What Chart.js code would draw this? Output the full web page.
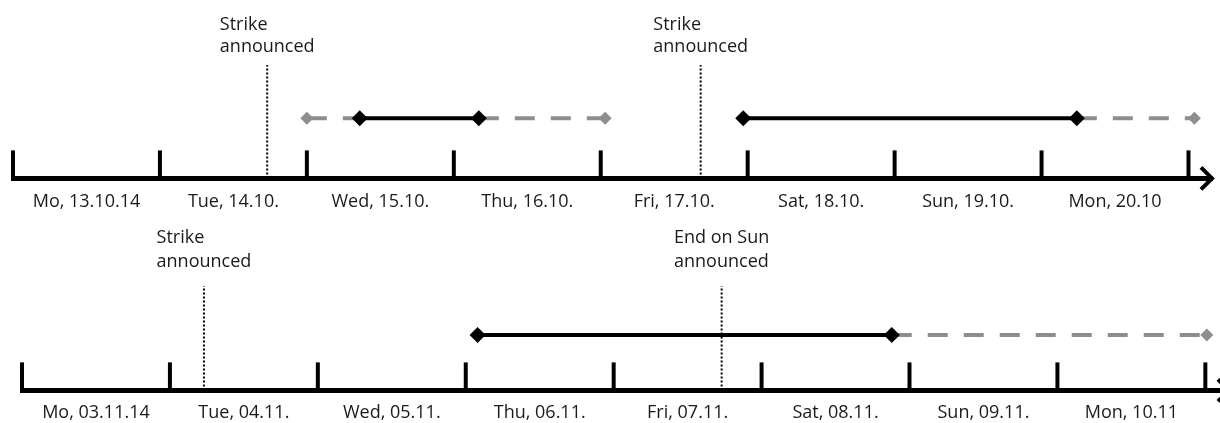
<!DOCTYPE html>
<html>
<head>
<meta charset="utf-8">
<script src="https://cdn.jsdelivr.net/npm/chart.js@4.4.1/dist/chart.umd.min.js"></script>
<style>
  html, body { margin: 0; padding: 0; background: #fff; overflow: hidden; }
  .row { position: relative; }
  #row1 { width: 1220px; height: 211px; }
  #row2 { width: 1240px; height: 212px; }
</style>
</head>
<body>
<div class="row" id="row1"><canvas id="chartOct"></canvas></div>
<div class="row" id="row2"><canvas id="chartNov"></canvas></div>
<script>
// x = days counted from Monday 00:00 of each week
const daysOct = ['Mo, 13.10.14', 'Tue, 14.10.', 'Wed, 15.10.', 'Thu, 16.10.', 'Fri, 17.10.', 'Sat, 18.10.', 'Sun, 19.10.', 'Mon, 20.10'];
const strikeOct = [[2.36, 3.17], [4.97, 7.24]];
const possibleOct = [[2.0, 2.36], [3.17, 4.03], [7.24, 8.04]];
const announceOct = [1.73, 4.68];
const announceTextOct = [['Strike', 'announced'], ['Strike', 'announced']];

const daysNov = ['Mo, 03.11.14', 'Tue, 04.11.', 'Wed, 05.11.', 'Thu, 06.11.', 'Fri, 07.11.', 'Sat, 08.11.', 'Sun, 09.11.', 'Mon, 10.11'];
const strikeNov = [[3.08, 5.88]];
const possibleNov = [[5.88, 8.01]];
const announceNov = [1.23, 4.73];
const announceTextNov = [['Strike', 'announced'], ['End on Sun', 'announced']];

const FONT = "'Open Sans', sans-serif";
const GRAY = '#8e8e8e';

Chart.defaults.font.family = FONT;
Chart.defaults.font.size = 18;
Chart.defaults.color = '#1a1a1a';

// segments -> points, null breaks the line
function segPoints(segs, y) {
  const pts = [];
  segs.forEach((s, i) => {
    if (i > 0) pts.push({ x: null, y: null });
    pts.push({ x: s[0], y: y }, { x: s[1], y: y });
  });
  return pts;
}

function vertPoints(xs) {
  const pts = [];
  xs.forEach((x, i) => {
    if (i > 0) pts.push({ x: null, y: null });
    pts.push({ x: x, y: 0 }, { x: x, y: 1 });
  });
  return pts;
}

function makeTimeline(id, days, strike, possible, announce, texts, opt) {
  const level = opt.level;

  const timeline = {
    id: 'timeline',
    afterDraw(chart) {
      const ctx = chart.ctx;
      const xs = chart.scales.x;
      const axisY = xs.top;
      ctx.save();
      ctx.strokeStyle = '#000';
      ctx.lineWidth = 4;
      // day ticks pointing up
      xs.ticks.forEach(t => {
        const px = xs.getPixelForValue(t.value);
        ctx.beginPath();
        ctx.moveTo(px, axisY);
        ctx.lineTo(px, axisY - 28);
        ctx.stroke();
      });
      // arrow head
      const tip = xs.right;
      ctx.lineJoin = 'miter';
      ctx.beginPath();
      ctx.moveTo(tip - 11, axisY - 11);
      ctx.lineTo(tip, axisY);
      ctx.lineTo(tip - 11, axisY + 11);
      ctx.stroke();
      // annotation texts
      ctx.font = '18px ' + FONT;
      ctx.fillStyle = '#1a1a1a';
      ctx.textBaseline = 'middle';
      ctx.textAlign = 'left';
      const y0 = chart.scales.y.getPixelForValue(1);
      announce.forEach((x, i) => {
        const lines = texts[i];
        const w = Math.max(...lines.map(l => ctx.measureText(l).width));
        const px = xs.getPixelForValue(x) - w / 2;
        lines.forEach((l, j) => {
          ctx.fillText(l, px, y0 - opt.gap - (lines.length - 1 - j) * opt.lineH);
        });
      });
      ctx.restore();
    }
  };

  return new Chart(document.getElementById(id), {
    type: 'scatter',
    data: {
      datasets: [
        {
          label: 'Strike',
          data: segPoints(strike, level),
          showLine: true,
          borderColor: '#000',
          backgroundColor: '#000',
          borderWidth: 4,
          pointStyle: 'rectRot',
          pointRadius: 8,
          pointBorderWidth: 0,
          clip: false
        },
        {
          label: 'Possible',
          data: segPoints(possible, level),
          showLine: true,
          borderColor: GRAY,
          backgroundColor: GRAY,
          borderWidth: 4,
          borderDash: [20, 16],
          pointStyle: 'rectRot',
          pointRadius: 6.5,
          pointBorderWidth: 0,
          clip: false
        },
        {
          label: 'Announced',
          data: vertPoints(announce),
          showLine: true,
          borderColor: '#000',
          borderWidth: 2,
          borderDash: [2, 2],
          pointRadius: 0,
          clip: false
        }
      ]
    },
    options: {
      responsive: true,
      maintainAspectRatio: false,
      animation: false,
      events: [],
      layout: { padding: opt.padding },
      plugins: { legend: { display: false }, tooltip: { enabled: false } },
      scales: {
        x: {
          type: 'linear',
          min: 0,
          max: 8.16,
          afterBuildTicks: s => { s.ticks = days.map((_, i) => ({ value: i })).concat([{ value: days.length }]); },
          ticks: { display: false },
          grid: { drawOnChartArea: false, drawTicks: false },
          border: { display: true, color: '#000', width: 5 }
        },
        xl: {
          type: 'linear',
          position: 'bottom',
          min: 0,
          max: 8.16,
          afterBuildTicks: s => { s.ticks = days.map((_, i) => ({ value: i + 0.5 })); },
          ticks: {
            padding: opt.labelPad,
            maxRotation: 0,
            autoSkip: false,
            callback: (v, i) => days[i]
          },
          grid: { display: false, drawTicks: false },
          border: { display: false }
        },
        y: { display: false, min: 0, max: 1 }
      }
    },
    plugins: [timeline]
  });
}

makeTimeline('chartOct', daysOct, strikeOct, possibleOct, announceOct, announceTextOct, {
  level: 0.53, gap: 18, lineH: 22, labelPad: 13,
  padding: { left: 13, right: 3, top: 65, bottom: -15 }
});

makeTimeline('chartNov', daysNov, strikeNov, possibleNov, announceNov, announceTextNov, {
  level: 0.53, gap: 24, lineH: 24, labelPad: 12,
  padding: { left: 22, right: 11, top: 75, bottom: -13 }
});
</script>
</body>
</html>
